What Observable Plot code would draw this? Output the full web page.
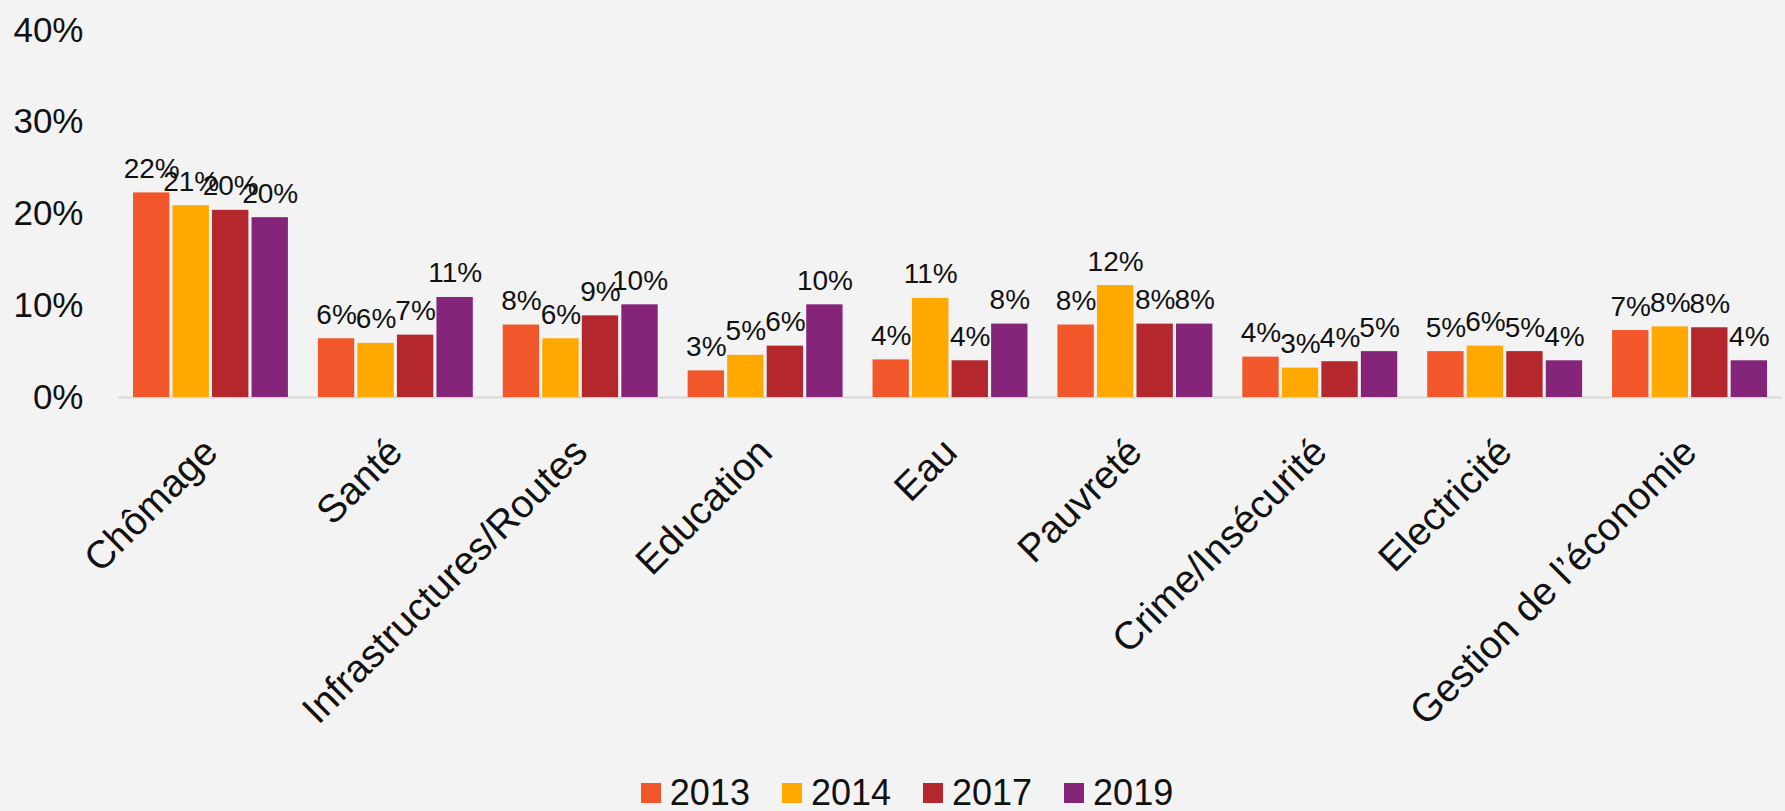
<!DOCTYPE html>
<html><head><meta charset="utf-8">
<script src="https://cdn.jsdelivr.net/npm/d3@7"></script>
<script src="https://cdn.jsdelivr.net/npm/@observablehq/plot@0.6"></script>
<style>
html,body{margin:0;padding:0;background:#f3f3f3;font-family:"Liberation Sans",Arial,sans-serif;color:#111;}
#chart svg{display:block;}
#legend{display:flex;align-items:center;justify-content:center;padding-left:29px;height:37px;font-size:36px;color:#111;}
.item{display:flex;align-items:center;margin:0 16px;}
.sw{width:20px;height:20px;margin-right:9px;}
</style></head><body>
<div id="chart"></div>
<div id="legend"></div>
<script>
const categories = ["Chômage","Santé","Infrastructures/Routes","Education","Eau","Pauvreté","Crime/Insécurité","Electricité","Gestion de l’économie"];
const years = ["2013","2014","2017","2019"];
const values2013 = [0.223,0.064,0.079,0.029,0.041,0.079,0.044,0.050,0.073];
const values2014 = [0.209,0.059,0.064,0.046,0.108,0.122,0.032,0.056,0.077];
const values2017 = [0.204,0.068,0.089,0.056,0.040,0.080,0.039,0.050,0.076];
const values2019 = [0.196,0.109,0.101,0.101,0.080,0.080,0.050,0.040,0.040];
const colors = ["#F1572B","#FFA800","#B3272D","#84257A"];
const yTicks = [0,0.1,0.2,0.3,0.4];

const series = [values2013, values2014, values2017, values2019];
const data = categories.flatMap((c,i) => years.map((y,j) => ({cat:c, year:y, value:series[j][i]})));
const pct = d3.format(".0%");

const plot = Plot.plot({
  width:1785, height:774,
  marginLeft:118, marginRight:3, marginTop:30, marginBottom:377,
  style:{background:"transparent", fontFamily:"Liberation Sans, Arial, sans-serif", color:"#111"},
  fx:{domain:categories, paddingInner:0.162, paddingOuter:0.081, round:false, label:null},
  x:{domain:years, paddingInner:0.08, paddingOuter:0, round:false, axis:null},
  y:{domain:[0,0.4], label:null},
  color:{domain:years, range:colors},
  marks:[
    Plot.ruleY([0],{stroke:"#d9d9d9", strokeWidth:2, insetLeft:-15, insetRight:-15}),
    Plot.barY(data,{fx:"cat", x:"year", y:"value", fill:"year"}),
    Plot.text(data,{fx:"cat", x:"year", y:"value", text:d => pct(d.value), lineAnchor:"bottom", dy:-15, fontSize:28, fill:"#111"}),
    Plot.axisY({ticks:yTicks, tickFormat:pct, tickSize:0, tickPadding:50, fontSize:35, label:null}),
    Plot.axisFx({anchor:"bottom", tickSize:0, tickPadding:48, tickRotate:-45, textAnchor:"end", lineAnchor:"middle", fontSize:39, label:null})
  ]
});
document.getElementById("chart").appendChild(plot);

const legend = document.getElementById("legend");
years.forEach((y,i) => {
  const it = document.createElement("div"); it.className = "item";
  const sw = document.createElement("div"); sw.className = "sw"; sw.style.background = colors[i];
  const t = document.createElement("span"); t.textContent = y;
  it.appendChild(sw); it.appendChild(t); legend.appendChild(it);
});
</script>
</body></html>
